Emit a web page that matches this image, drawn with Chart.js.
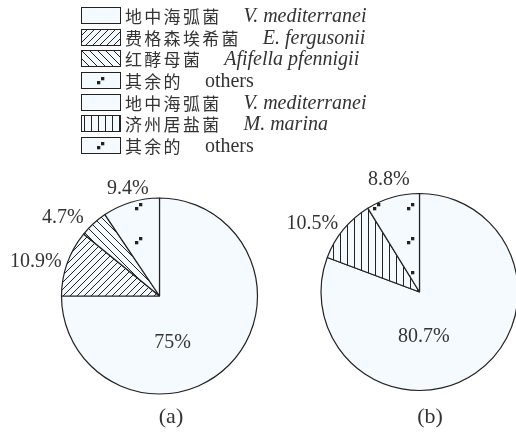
<!DOCTYPE html>
<html>
<head>
<meta charset="utf-8">
<script src="https://cdn.jsdelivr.net/npm/chart.js@4.4.0/dist/chart.umd.min.js"></script>
<style>
html, body { margin: 0; padding: 0; width: 516px; height: 437px; overflow: hidden; background: #fff; }
#legend { position: absolute; left: 81px; top: 5px; }
.row { height: 21.6px; display: flex; align-items: center; color: #333; white-space: nowrap; }
.row canvas { display: block; }
.zh { font-family: "Noto Sans CJK SC"; font-size: 17px; letter-spacing: 2.3px; margin-left: 4px; }
.la { font-family: "Liberation Serif"; font-size: 20px; margin-left: 22px; }
.cap { position: absolute; font-family: "Liberation Serif"; font-size: 22px; color: #333; transform: translate(-50%, -50%); }
#chartA { position: absolute; left: 0; top: 170px; }
#chartB { position: absolute; left: 280px; top: 170px; }
</style>
</head>
<body>
<div id="legend"></div>
<canvas id="chartA" width="270" height="240"></canvas>
<canvas id="chartB" width="260" height="240"></canvas>
<div class="cap" style="left:171px; top:416px;">(a)</div>
<div class="cap" style="left:430px; top:416px;">(b)</div>

<script>
// data
const labelsA = ['V. mediterranei', 'E. fergusonii', 'Afifella pfennigii', 'others'];
const valuesA = [75, 10.9, 4.7, 9.4];
const labelsB = ['V. mediterranei', 'M. marina', 'others'];
const valuesB = [80.7, 10.5, 8.8];

const legendZh = ['地中海弧菌', '费格森埃希菌', '红酵母菌', '其余的', '地中海弧菌', '济州居盐菌', '其余的'];
const legendLatin = ['V. mediterranei', 'E. fergusonii', 'Afifella pfennigii', 'others', 'V. mediterranei', 'M. marina', 'others'];

// fill style names per slice / legend row
const fillsA = ['plain', 'slash', 'backslash', 'dots'];
const fillsB = ['plain', 'vertical', 'dots'];
const legendFills = ['plain', 'slash', 'backslash', 'dots', 'plain', 'vertical', 'dots'];

const BG = '#f5fafe';
const INK = '#222';

function tile(w, h, draw) {
    const c = document.createElement('canvas');
    c.width = w; c.height = h;
    const g = c.getContext('2d');
    g.fillStyle = BG;
    g.fillRect(0, 0, w, h);
    g.strokeStyle = INK;
    g.fillStyle = INK;
    g.lineWidth = 1;
    draw(g, w, h);
    return c;
}

function drawGlyph(g, x, y) {
    g.fillRect(x + 4, y, 3.3, 3.3);
    g.fillRect(x, y + 4, 3.3, 3.3);
}

function makePattern(ctx, kind, ox, oy) {
    let t;
    if (kind === 'plain') return BG;
    if (kind === 'slash') {
        const s = 7;
        t = tile(s, s, g => {
            g.beginPath();
            g.moveTo(-1, s + 1); g.lineTo(s + 1, -1);
            g.moveTo(-1, 1); g.lineTo(1, -1);
            g.moveTo(s - 1, s + 1); g.lineTo(s + 1, s - 1);
            g.stroke();
        });
    } else if (kind === 'backslash') {
        const s = 8;
        t = tile(s, s, g => {
            g.beginPath();
            g.moveTo(-1, -1); g.lineTo(s + 1, s + 1);
            g.moveTo(s - 1, -1); g.lineTo(s + 1, 1);
            g.moveTo(-1, s - 1); g.lineTo(1, s + 1);
            g.stroke();
        });
    } else if (kind === 'vertical') {
        t = tile(7, 7, g => {
            g.beginPath();
            g.moveTo(3.5, 0); g.lineTo(3.5, 7);
            g.stroke();
        });
    } else if (kind === 'dots') {
        t = tile(34, 34, g => drawGlyph(g, 0, 0));
    }
    const p = ctx.createPattern(t, 'repeat');
    if (ox || oy) p.setTransform(new DOMMatrix([1, 0, 0, 1, ox || 0, oy || 0]));
    return p;
}

// legend rows (html)
const legend = document.getElementById('legend');
legendZh.forEach((zh, i) => {
    const row = document.createElement('div');
    row.className = 'row';
    const sw = document.createElement('canvas');
    sw.width = 40; sw.height = 17;
    const g = sw.getContext('2d');
    if (legendFills[i] === 'dots') {
        g.fillStyle = BG;
        g.fillRect(0, 0, 40, 17);
        g.fillStyle = INK;
        drawGlyph(g, 16, 5);
    } else {
        g.fillStyle = makePattern(g, legendFills[i]);
        g.fillRect(0, 0, 40, 17);
    }
    g.strokeStyle = INK;
    g.lineWidth = 1;
    g.strokeRect(0.5, 0.5, 39, 16);
    row.appendChild(sw);

    const a = document.createElement('span');
    a.className = 'zh';
    a.textContent = zh;
    row.appendChild(a);
    const b = document.createElement('span');
    b.className = 'la';
    b.textContent = legendLatin[i];
    if (legendLatin[i] !== 'others') b.style.fontStyle = 'italic';
    row.appendChild(b);
    legend.appendChild(row);
});

// percentage labels around each slice
const pctLabels = {
    id: 'pctLabels',
    afterDatasetsDraw(chart, args, opts) {
        const ctx = chart.ctx;
        const meta = chart.getDatasetMeta(0);
        const values = chart.data.datasets[0].data;
        ctx.save();
        ctx.font = '20px "Liberation Serif"';
        ctx.fillStyle = '#333';
        ctx.textAlign = 'center';
        ctx.textBaseline = 'middle';
        meta.data.forEach((arc, i) => {
            const p = arc.getProps(['x', 'y', 'startAngle', 'endAngle', 'outerRadius'], true);
            const a = (p.startAngle + p.endAngle) / 2 + opts.shift[i] * Math.PI / 180;
            const r = p.outerRadius * opts.dist[i];
            ctx.fillText(values[i] + '%', p.x + Math.cos(a) * r, p.y + Math.sin(a) * r);
        });
        ctx.restore();
    }
};

function makePie(id, labels, values, fills, dotOffset, radius, padding, shift, dist) {
    const ctx = document.getElementById(id).getContext('2d');
    return new Chart(ctx, {
        type: 'pie',
        data: {
            labels: labels,
            datasets: [{
                data: values,
                backgroundColor: fills.map(f => makePattern(ctx, f, dotOffset[0], dotOffset[1])),
                borderColor: INK,
                borderWidth: 1.2
            }]
        },
        options: {
            responsive: false,
            animation: false,
            radius: radius,
            layout: { padding: padding },
            plugins: {
                legend: { display: false },
                tooltip: { enabled: false },
                pctLabels: { shift: shift, dist: dist }
            }
        },
        plugins: [pctLabels]
    });
}

makePie('chartA', labelsA, valuesA, fillsA, [135, 33], 98,
    { left: 60, right: 11, top: 27, bottom: 15 },
    [29.6, -4.1, -8.6, 0.5], [0.5, 1.31, 1.27, 1.14]);

makePie('chartB', labelsB, valuesB, fillsB, [127, 33], 98.5,
    { left: 40, right: 21, top: 23, bottom: 19 },
    [29.2, -6.9, 0.5], [0.455, 1.29, 1.18]);
</script>
</body>
</html>
